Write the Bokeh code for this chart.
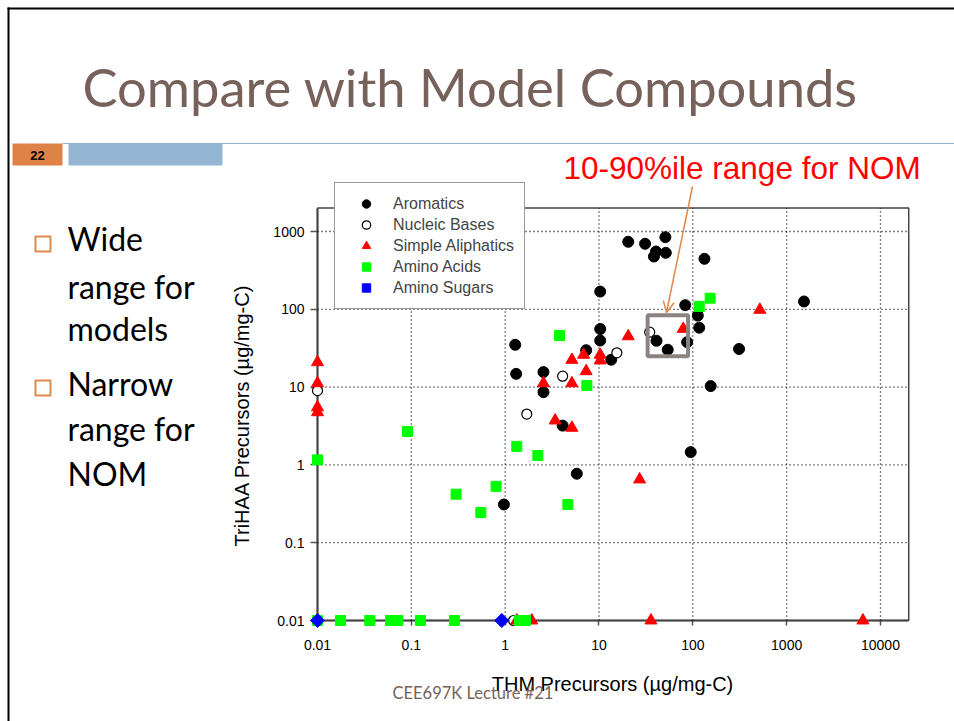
import math
from bokeh.plotting import figure
from bokeh.models import (Label, BoxAnnotation, Arrow, OpenHead, Legend, LegendItem,
                          FixedTicker, CustomJSTickFormatter, LogAxis, LogScale)
from bokeh.embed import file_html
from bokeh.resources import INLINE

# ---------------- data ----------------
aromatics_x = [20.5, 31, 51, 40.5, 51.5, 38.5, 133, 10.3, 83, 113, 117, 41, 54, 87, 311,
               10.3, 10.3, 7.3, 13.5, 1.28, 1.31, 2.56, 2.56, 4.1, 5.8, 95, 0.97, 1530, 155]
aromatics_y = [738, 695, 845, 553, 532, 477, 446, 169, 113, 83, 58, 39.4, 30.2, 37.8, 30.9,
               55.8, 39.7, 29.8, 22.5, 35, 14.8, 15.6, 8.6, 3.2, 0.77, 1.46, 0.31, 126, 10.3]

nucleic_x = [0.01, 34.7, 15.5, 4.1, 1.7, 1.23]
nucleic_y = [9.0, 50.8, 27.6, 13.8, 4.5, 0.01]

aliphatic_x = [0.01, 0.01, 0.01, 0.01, 20.5, 79, 518, 10.3, 10.3, 6.85, 5.14, 7.3, 5.14,
               2.56, 3.41, 5.14, 27.1, 1.33, 1.92, 35.8, 6500]
aliphatic_y = [20.9, 11.2, 5.5, 4.75, 45, 56, 98.5, 26, 22, 26, 22.4, 16, 11.2,
               11.2, 3.72, 3.0, 0.65, 0.01, 0.01, 0.01, 0.01]

amino_x = [0.01, 0.091, 0.30, 0.55, 0.80, 1.33, 2.23, 4.66, 7.43, 3.8, 117, 153,
           0.01, 0.0176, 0.0361, 0.060, 0.0718, 0.125, 0.288, 1.42, 1.65]
amino_y = [1.16, 2.69, 0.42, 0.244, 0.53, 1.73, 1.32, 0.31, 10.5, 46, 109, 139,
           0.01, 0.01, 0.01, 0.01, 0.01, 0.01, 0.01, 0.01, 0.01]

sugars_x = [0.01, 0.92]
sugars_y = [0.01, 0.01]

nom_range_x = [33, 89]
nom_range_y = [25, 84]

x_ticks = [0.01, 0.1, 1, 10, 100, 1000, 10000]
x_tick_labels = ["0.01", "0.1", "1", "10", "100", "1000", "10000"]
y_ticks = [0.01, 0.1, 1, 10, 100, 1000]
y_tick_labels = ["0.01", "0.1", "1", "10", "100", "1000"]
axis_origin = 0.01
x_limits = [0.01, 20000]
y_limits = [0.01, 2000]

series_names = ["Aromatics", "Nucleic Bases", "Simple Aliphatics", "Amino Acids", "Amino Sugars"]
x_title = "THM Precursors (\u00b5g/mg-C)"
y_title = "TriHAA Precursors (\u00b5g/mg-C)"

slide_title = "Compare with Model Compounds"
bullet_lines = ["Wide", "range for", "models", "Narrow", "range for", "NOM"]
annotation_text = "10-90%ile range for NOM"
footer_text = "CEE697K  Lecture #21"
slide_number = "22"

# ---------------- layout: the frame is the whole slide ----------------
W, H = 954, 721
X0_PX, X_DEC = 317.0, 93.83     # pixel of x=0.01, pixels per decade
Y0_PX, Y_DEC = 620.0, 77.8      # pixel (from top) of y=0.01, pixels per decade
lx0 = math.log10(axis_origin)
x_view = (10 ** (lx0 - X0_PX / X_DEC), 10 ** (lx0 + (W - X0_PX) / X_DEC))
y_view = (10 ** (lx0 - (H - Y0_PX) / Y_DEC), 10 ** (lx0 + Y0_PX / Y_DEC))

p = figure(width=W, height=H, x_axis_type=None, y_axis_type=None,
           x_range=x_view, y_range=y_view, output_backend="svg", toolbar_location=None,
           min_border=0)
p.x_scale = LogScale()
p.y_scale = LogScale()
p.outline_line_color = None
p.background_fill_color = "white"
p.border_fill_color = "white"

fmt_code = """
let best = 0; let bd = Infinity;
for (let i = 0; i < tvals.length; i++) {
  const d = Math.abs(Math.log10(tick) - Math.log10(tvals[i]));
  if (d < bd) { bd = d; best = i; }
}
return ttext[best];
"""

ax_color = "#555555"
xaxis = LogAxis()
yaxis = LogAxis()
for ax, tks, labels, lim in ((xaxis, x_ticks, x_tick_labels, x_limits),
                             (yaxis, y_ticks, y_tick_labels, y_limits)):
    ax.ticker = FixedTicker(ticks=tks, minor_ticks=[])
    ax.formatter = CustomJSTickFormatter(args=dict(tvals=tks, ttext=labels), code=fmt_code)
    ax.fixed_location = axis_origin
    ax.bounds = tuple(lim)
    ax.axis_line_color = ax_color
    ax.axis_line_width = 2
    ax.major_tick_line_color = ax_color
    ax.major_tick_line_width = 1.5
    ax.minor_tick_line_color = None
    ax.major_label_text_font = "Liberation Sans"
    ax.major_label_text_font_size = "14px"
    ax.major_label_text_color = "black"
    ax.level = "underlay"
xaxis.major_tick_in = 0
xaxis.major_tick_out = 5
yaxis.major_tick_in = 0
yaxis.major_tick_out = 7
xaxis.major_label_standoff = 14
yaxis.major_label_standoff = 6
p.add_layout(xaxis, "below")
p.add_layout(yaxis, "left")

# dotted grid at the decades (inside the chart frame only)
p.segment(x0=x_ticks[1:], x1=x_ticks[1:], y0=[y_limits[0]] * (len(x_ticks) - 1),
          y1=[y_limits[1]] * (len(x_ticks) - 1),
          line_color="black", line_dash="1 3", line_width=1.3)
p.segment(x0=[x_limits[0]] * (len(y_ticks) - 1), x1=[x_limits[1]] * (len(y_ticks) - 1),
          y0=y_ticks[1:], y1=y_ticks[1:],
          line_color="black", line_dash="1 3", line_width=1.3)

# chart frame box
p.add_layout(BoxAnnotation(left=x_limits[0], right=x_limits[1], bottom=y_limits[0], top=y_limits[1],
                           fill_alpha=0, line_color="#444444", line_alpha=1, line_width=1.5,
                           level="underlay"))

# ---------------- series ----------------
r1 = p.scatter(aromatics_x, aromatics_y, marker="circle", size=11,
               fill_color="black", line_color="black")
r2 = p.scatter(nucleic_x, nucleic_y, marker="circle", size=10,
               fill_color="white", line_color="black", line_width=1.2)
r3 = p.scatter(aliphatic_x, aliphatic_y, marker="triangle", size=12,
               fill_color="#FF0000", line_color="#FF0000")
r4 = p.scatter(amino_x, amino_y, marker="square", size=10,
               fill_color="#00FF00", line_color="#00FF00")
r5 = p.scatter(sugars_x, sugars_y, marker="square", size=10, angle=math.pi / 4,
               fill_color="#0000FF", line_color="#0000FF")

# NOM range box
p.add_layout(BoxAnnotation(left=nom_range_x[0], right=nom_range_x[1],
                           bottom=nom_range_y[0], top=nom_range_y[1],
                           fill_alpha=0, line_color="#8C8282", line_alpha=1, line_width=4))

legend = Legend(items=[LegendItem(label=n, renderers=[r]) for n, r in
                       zip(series_names, [r1, r2, r3, r4, r5])],
                location=(334, H - 309),
                label_text_font="Liberation Sans", label_text_font_size="16px",
                label_height=21, glyph_height=21, glyph_width=42, spacing=0,
                padding=10, margin=0, label_standoff=6,
                border_line_color="#333333", border_line_width=1.5,
                background_fill_color="white", background_fill_alpha=1)
p.add_layout(legend)

# ---------------- slide decorations (canvas pixels, measured from top-left) ----------------
def sbox(l, r, t, b, **kw):
    p.add_layout(BoxAnnotation(left=l, right=r, top=H - t, bottom=H - b,
                               left_units="screen", right_units="screen",
                               top_units="screen", bottom_units="screen", **kw))

def slabel(text, x, y, **kw):
    p.add_layout(Label(text=text, x=x, y=H - y, x_units="screen", y_units="screen", **kw))

brown = "#76625A"
# slide border
sbox(7, 9, 7, 721, fill_color="black", fill_alpha=1, line_color=None)
sbox(7, 954, 7, 9, fill_color="black", fill_alpha=1, line_color=None)
# header bars
sbox(62, 954, 142.5, 143.5, fill_color="#94B6D2", fill_alpha=1, line_color=None)
sbox(12, 62, 143, 165, fill_color="#DE8248", fill_alpha=1, line_color=None)
sbox(68, 222, 143, 165, fill_color="#94B6D2", fill_alpha=1, line_color=None)
slabel(slide_number, 37, 155, text_font="Liberation Sans", text_font_size="13px",
       text_font_style="bold", text_color="black", text_align="center", text_baseline="middle")

slabel(slide_title, 82, 86, text_font="Lato", text_font_size="52.5px",
       text_color=brown, text_align="left", text_baseline="alphabetic")

# bullets
for yy in (236, 380):
    sbox(35, 50, yy, yy + 15, fill_alpha=0, line_color="#E0874A", line_alpha=1, line_width=2)
for txt, base in zip(bullet_lines, [250, 298, 340, 395, 440, 485]):
    slabel(txt, 67, base - 12.5, text_font="Lato", text_font_size="32px",
           text_color="black", text_align="left", text_baseline="alphabetic")

# axis titles
slabel(x_title, 612, 683, text_font="Liberation Sans", text_font_size="20px",
       text_color="black", text_align="center", text_baseline="middle")
slabel(y_title, 241, 415, text_font="Liberation Sans", text_font_size="20px",
       text_color="black", text_align="center", text_baseline="middle", angle=math.pi / 2)

# annotation
slabel(annotation_text, 563, 167.5, text_font="Liberation Sans", text_font_size="31.5px",
       text_color="#FF0000", text_align="left", text_baseline="alphabetic")
p.add_layout(Arrow(x_start=692, y_start=H - 186, x_end=666, y_end=H - 312,
                   start_units="screen", end_units="screen",
                   line_color="#E0874A", line_width=1.5,
                   end=OpenHead(size=11, line_color="#E0874A", line_width=1.5)))

# footer
slabel(footer_text, 392, 692, text_font="Lato", text_font_size="16.5px",
       text_color=brown, text_align="left", text_baseline="alphabetic")

open("out.html", "w").write(file_html(p, INLINE))
